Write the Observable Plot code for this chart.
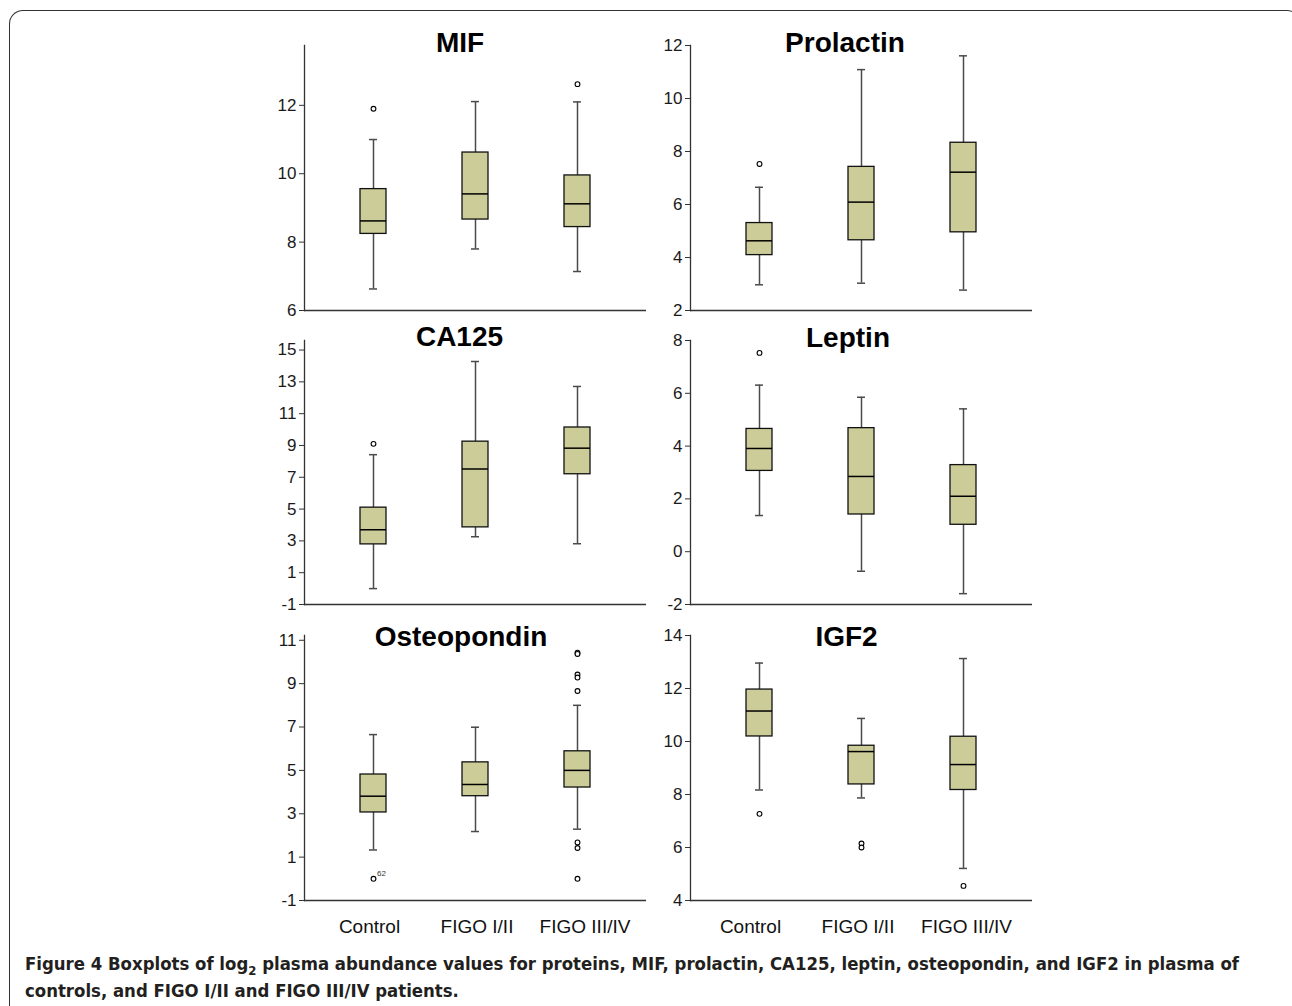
<!DOCTYPE html>
<html><head><meta charset="utf-8">
<script src="https://cdn.jsdelivr.net/npm/d3@7"></script>
<script src="https://cdn.jsdelivr.net/npm/@observablehq/plot@0.6"></script>
<style>
body{margin:0;background:#fff;}
#wrap{position:relative;width:1292px;height:1006px;overflow:hidden;font-family:"Liberation Sans",Arial,sans-serif;}
#frame{position:absolute;left:9px;top:10px;width:1292px;height:1010px;border:1.4px solid #333;border-bottom:none;border-radius:14px 14px 0 0;box-sizing:border-box;}
.panel{position:absolute;}
.title{position:absolute;font-weight:bold;font-size:28px;line-height:28px;transform:translateX(-50%);white-space:nowrap;color:#000;}
#caption{position:absolute;left:25px;top:950px;font-family:"Liberation Sans Narrow","DejaVu Sans Condensed",sans-serif;font-weight:bold;font-size:18.4px;line-height:27px;white-space:nowrap;color:#231f20;}
</style></head>
<body>
<div id="wrap">
  <div id="frame"></div>
  <div id="caption">Figure 4 Boxplots of log<sub style="font-size:13px;line-height:0">2</sub> plasma abundance values for proteins, MIF, prolactin, CA125, leptin, osteopondin, and IGF2 in plasma of<br>controls, and FIGO I/II and FIGO III/IV patients.</div>
</div>
<script>
const groups = ["Control", "FIGO I/II", "FIGO III/IV"];

// per group: [lower whisker, Q1, median, Q3, upper whisker]
const mifStats = [[6.63, 8.24, 8.62, 9.55, 11.0], [7.8, 8.66, 9.41, 10.62, 12.11], [7.14, 8.44, 9.12, 9.95, 12.1]];
const mifOutliers = [[11.9], [], [12.62]];
const mifTicks = [6, 8, 10, 12];
const mifDomain = [6, 13.75];

const prlStats = [[2.97, 4.09, 4.63, 5.3, 6.65], [3.03, 4.65, 6.09, 7.42, 11.09], [2.77, 4.95, 7.22, 8.33, 11.61]];
const prlOutliers = [[7.53], [], []];
const prlTicks = [2, 4, 6, 8, 10, 12];
const prlDomain = [2, 12];

const caStats = [[0.0, 2.78, 3.7, 5.09, 8.42], [3.26, 3.85, 7.52, 9.24, 14.28], [2.82, 7.19, 8.83, 10.13, 12.71]];
const caOutliers = [[9.1], [], []];
const caTicks = [-1, 1, 3, 5, 7, 9, 11, 13, 15];
const caDomain = [-1, 15.6];

const lepStats = [[1.37, 3.06, 3.91, 4.65, 6.31], [-0.74, 1.41, 2.85, 4.68, 5.85], [-1.59, 1.02, 2.1, 3.28, 5.41]];
const lepOutliers = [[7.53], [], []];
const lepTicks = [-2, 0, 2, 4, 6, 8];
const lepDomain = [-2, 8];

const ostStats = [[1.33, 3.06, 3.81, 4.81, 6.65], [2.18, 3.81, 4.35, 5.37, 6.99], [2.29, 4.21, 5.0, 5.88, 8.0]];
const ostOutliers = [[0.0], [], [10.43, 10.37, 9.42, 9.28, 8.66, 1.68, 1.42, 0.0]];
const ostTicks = [-1, 1, 3, 5, 7, 9, 11];
const ostDomain = [-1, 11.22];
const ostLabels = [{group: "Control", value: 0.0, text: "62"}];

const igfStats = [[8.17, 10.19, 11.15, 11.96, 12.96], [7.87, 8.38, 9.62, 9.84, 10.87], [5.21, 8.17, 9.13, 10.18, 13.13]];
const igfOutliers = [[7.27], [6.15, 6.0], [4.55]];
const igfTicks = [4, 6, 8, 10, 12, 14];
const igfDomain = [4, 14];

const panels = [
  {title: "MIF", stats: mifStats, outliers: mifOutliers, ticks: mifTicks, domain: mifDomain, col: 0, row: 0, tx: 460, ty: 28.6},
  {title: "Prolactin", stats: prlStats, outliers: prlOutliers, ticks: prlTicks, domain: prlDomain, col: 1, row: 0, tx: 845, ty: 28.6},
  {title: "CA125", stats: caStats, outliers: caOutliers, ticks: caTicks, domain: caDomain, col: 0, row: 1, tx: 459.5, ty: 323.3},
  {title: "Leptin", stats: lepStats, outliers: lepOutliers, ticks: lepTicks, domain: lepDomain, col: 1, row: 1, tx: 848, ty: 324},
  {title: "Osteopondin", stats: ostStats, outliers: ostOutliers, ticks: ostTicks, domain: ostDomain, col: 0, row: 2, tx: 461, ty: 623, labels: ostLabels},
  {title: "IGF2", stats: igfStats, outliers: igfOutliers, ticks: igfTicks, domain: igfDomain, col: 1, row: 2, tx: 846.5, ty: 622.5}
];

const colLeft = [250, 636];
const labelShift = [[-4, 1.5, 7.5], [-9, -3.5, 3]];
const rowGeom = [
  {top: 10, height: 310, marginBottom: 10},
  {top: 305, height: 309, marginBottom: 10},
  {top: 600, height: 345, marginBottom: 45}
];

const wrap = document.getElementById("wrap");
const whisk = "#4a4a4a";

for (const p of panels) {
  const rows = groups.map((g, i) => ({group: g, lo: p.stats[i][0], q1: p.stats[i][1], med: p.stats[i][2], q3: p.stats[i][3], hi: p.stats[i][4]}));
  const outs = groups.flatMap((g, i) => p.outliers[i].map(v => ({group: g, value: v})));
  const geom = rowGeom[p.row];
  const last = p.row === 2;
  const xAxes = last ? groups.map((g, i) => Plot.axisX({ticks: [g], tickSize: 0, tickPadding: 19, fontSize: 19, label: null, dx: labelShift[p.col][i], fill: "#111"})) : [];
  const chart = Plot.plot({
    width: 400,
    height: geom.height,
    marginLeft: 54,
    marginRight: 4,
    marginTop: 35,
    marginBottom: geom.marginBottom,
    style: {fontFamily: "'Liberation Sans', Arial, sans-serif", fontSize: "17px", color: "#1a1a1a", background: "transparent", overflow: "visible"},
    x: {type: "band", domain: groups, paddingInner: 0.75, paddingOuter: 0.54, axis: null},
    y: {domain: p.domain, axis: null},
    marks: [
      Plot.ruleX(rows, {x: "group", y1: "lo", y2: "q1", stroke: whisk, strokeWidth: 1.5}),
      Plot.ruleX(rows, {x: "group", y1: "q3", y2: "hi", stroke: whisk, strokeWidth: 1.5}),
      Plot.tickY(rows, {x: "group", y: "lo", insetLeft: 9, insetRight: 9, stroke: whisk, strokeWidth: 1.5}),
      Plot.tickY(rows, {x: "group", y: "hi", insetLeft: 9, insetRight: 9, stroke: whisk, strokeWidth: 1.5}),
      Plot.barY(rows, {x: "group", y1: "q1", y2: "q3", fill: "#cccc99", stroke: "#111", strokeWidth: 1.3}),
      Plot.tickY(rows, {x: "group", y: "med", stroke: "#000", strokeWidth: 1.5}),
      Plot.dot(outs, {x: "group", y: "value", r: 2.4, stroke: "#000", fill: "#fff", strokeWidth: 1.1}),
      p.labels ? Plot.text(p.labels, {x: "group", y: "value", text: "text", dx: 8, dy: -5, fontSize: 8, fill: "#333"}) : null,
      Plot.ruleY([p.domain[0]], {stroke: "#333", strokeWidth: 1.3}),
      Plot.frame({anchor: "left", stroke: "#333", strokeWidth: 1.3}),
      Plot.axisY({ticks: p.ticks, tickSize: 5, tickPadding: 3, tickFormat: d => String(d), fontSize: 17, label: null, stroke: "#333"}),
      ...xAxes
    ]
  });
  const holder = document.createElement("div");
  holder.className = "panel";
  holder.style.left = colLeft[p.col] + "px";
  holder.style.top = geom.top + "px";
  holder.appendChild(chart);
  wrap.appendChild(holder);

  const t = document.createElement("div");
  t.className = "title";
  t.textContent = p.title;
  t.style.left = p.tx + "px";
  t.style.top = p.ty + "px";
  wrap.appendChild(t);
}
</script>
</body></html>
